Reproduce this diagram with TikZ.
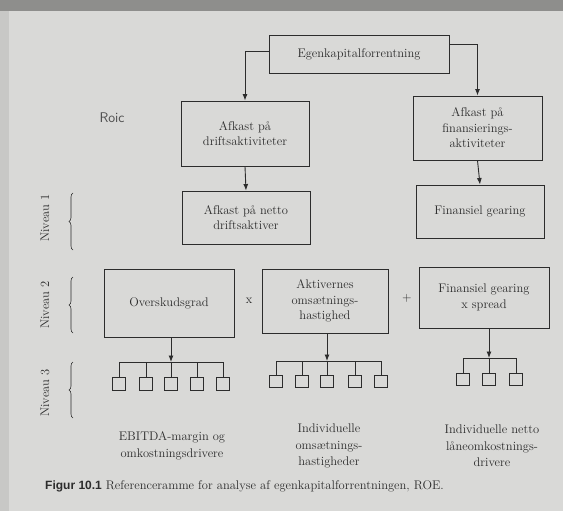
\documentclass[tikz,border=0pt]{standalone}
\usepackage{fontspec}
\newfontfamily\capsans{Liberation Sans}
\usetikzlibrary{arrows.meta,decorations.pathreplacing}
\definecolor{page}{HTML}{D9D9D7}
\definecolor{band}{HTML}{8E8E8C}
\definecolor{lband}{HTML}{C8C8C6}
\definecolor{ink}{HTML}{2C2C2C}
\begin{document}
\begin{tikzpicture}[x=1pt,y=-1pt,
  box/.style={draw=ink, line width=0.9pt, align=center, inner sep=0pt, text=ink, font=\fontsize{12.5}{15.5}\selectfont},
  arr/.style={draw=ink, line width=0.9pt, -{Latex[length=6.5pt,width=5pt]}},
  ln/.style={draw=ink, line width=0.9pt},
  sq/.style={draw=ink, line width=0.9pt, minimum width=12.5pt, minimum height=12.5pt, inner sep=0pt},
  lbl/.style={text=ink, align=center, font=\fontsize{12.5}{16.5}\selectfont},
  op/.style={text=ink, font=\fontsize{12.5}{15}\selectfont},
  niv/.style={text=ink, rotate=90, font=\fontsize{12.5}{15}\selectfont},
  brc/.style={draw=ink, line width=0.6pt, decorate, decoration={brace, amplitude=4pt}},
]
% background (photographed page)
\fill[page] (0,0) rectangle (563,511);
\fill[lband] (0,0) rectangle (9,511);
\fill[band] (0,0) rectangle (563,11);
\useasboundingbox (0,0) rectangle (563,511);

% boxes
\node[box, minimum width=180pt, minimum height=38pt] (top) at (359,54) {Egenkapitalforrentning};
\node[box, minimum width=128pt, minimum height=65pt] (A1) at (245,133.5) {Afkast på\\driftsaktiviteter};
\node[box, minimum width=129pt, minimum height=64pt] (A2) at (477.5,128) {Afkast på\\finansierings-\\aktiviteter};
\node[box, minimum width=128pt, minimum height=53pt] (B1) at (246,217.5) {Afkast på netto\\driftsaktiver};
\node[box, minimum width=128pt, minimum height=53pt] (B2) at (480,211.5) {Finansiel gearing};
\node[box, minimum width=130pt, minimum height=68pt] (C1) at (169,303) {Overskudsgrad};
\node[box, minimum width=126pt, minimum height=64pt] (C2) at (325,301) {Aktivernes\\omsætnings-\\hastighed};
\node[box, minimum width=130pt, minimum height=61pt] (C3) at (484,297.5) {Finansiel gearing\\x spread};

\node[op] (times) at (249,301) {x};
\node[op] (plus) at (407,298) {+};

% handwritten note
\node[text=ink!85, font=\sffamily\fontsize{14}{14}\selectfont] (roic) at (112,118) {Roic};

% top connectors
\draw[arr] ([yshift=3pt]top.west) -| (A1.north);
\draw[arr] ([yshift=10pt]top.east) -| (A2.north);
\draw[arr] (A1.south) -- (B1.north);
\draw[arr] (A2.south) -- (B2.north);

% tree 1
\coordinate (j1) at (171,362);
\foreach \i/\x in {1/119,2/146,3/171,4/197,5/223}{
  \node[sq] (s1\i) at (\x,384) {};
}
\draw[arr] (C1.south -| j1) -- (j1);
\draw[ln] (s11.north) -- (s11.north |- j1) -- (s15.north |- j1) -- (s15.north);
\foreach \i in {2,3,4}{ \draw[ln] (s1\i.north) -- (s1\i.north |- j1); }

% tree 2
\coordinate (j2) at (327,361);
\foreach \i/\x in {1/276,2/302,3/327,4/355,5/381}{
  \node[sq] (s2\i) at (\x,381.5) {};
}
\draw[arr] (C2.south -| j2) -- (j2);
\draw[ln] (s21.north) -- (s21.north |- j2) -- (s25.north |- j2) -- (s25.north);
\foreach \i in {2,3,4}{ \draw[ln] (s2\i.north) -- (s2\i.north |- j2); }

% tree 3
\coordinate (j3) at (489,358);
\foreach \i/\x in {1/463,2/489,3/516}{
  \node[sq] (s3\i) at (\x,379.5) {};
}
\draw[arr] (C3.south -| j3) -- (j3);
\draw[ln] (s31.north) -- (s31.north |- j3) -- (s33.north |- j3) -- (s33.north);
\draw[ln] (s32.north) -- (s32.north |- j3);

% bottom labels
\node[lbl] (L1) at (172,446) {EBITDA-margin og\\omkostningsdrivere};
\node[lbl] (L2) at (329,446) {Individuelle\\omsætnings-\\hastigheder};
\node[lbl] (L3) at (492,446) {Individuelle netto\\låneomkostnings-\\drivere};

% levels
\node[niv] (n1) at (45,218) {Niveau 1};
\node[niv] (n2) at (45,305) {Niveau 2};
\node[niv] (n3) at (45,393) {Niveau 3};
\draw[brc] (73,250) -- (73,193);
\draw[brc] (73,333) -- (73,277);
\draw[brc] (73,418) -- (73,362);

% caption
\node[anchor=base west, text=ink, inner sep=0pt, font=\fontsize{12.5}{15}\selectfont] (cap) at (45,489)
  {{\capsans\bfseries\fontsize{12}{15}\selectfont Figur 10.1} Referenceramme for analyse af egenkapitalforrentningen, ROE.};
\end{tikzpicture}
\end{document}
